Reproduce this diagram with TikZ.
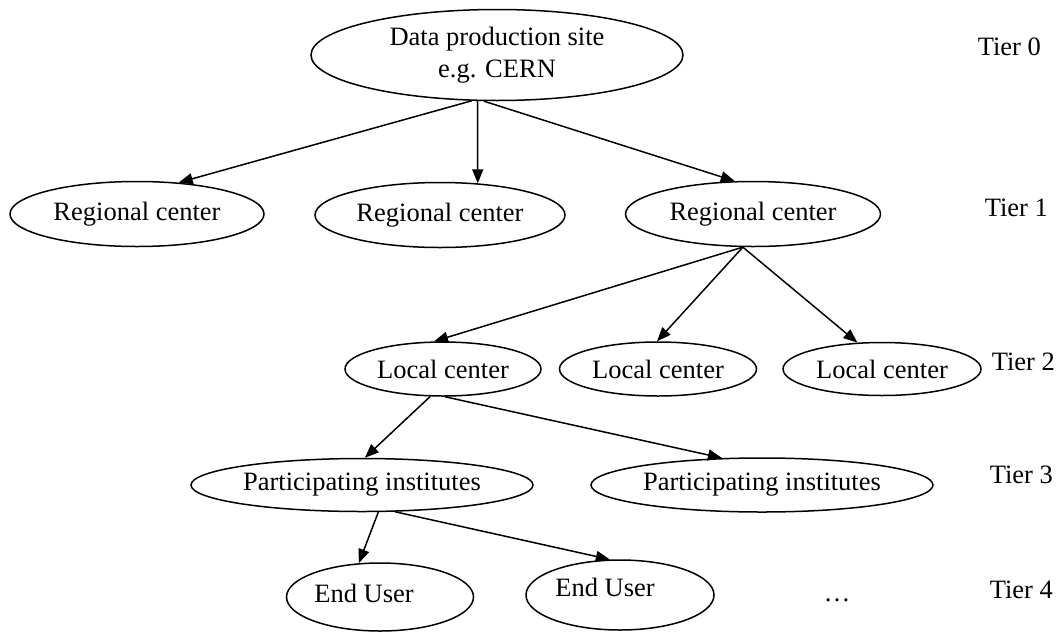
\documentclass[tikz,border=0pt]{standalone}
\usepackage{fontspec}
\setmainfont{Liberation Serif}
\usetikzlibrary{shapes.geometric,arrows.meta}

\begin{document}
\begin{tikzpicture}[x=1pt, y=-1pt, >={Triangle[length=14pt,width=11pt]}, line width=1.5pt, font=\fontsize{26.5}{32}\selectfont]
  \tikzstyle{tiernode}=[ellipse, draw, inner sep=0pt]
  \tikzstyle{tierlabel}=[anchor=west, inner sep=0pt]
  \useasboundingbox (0,0) rectangle (1056,632);

  \node[tiernode, minimum width=372pt, minimum height=91pt, align=center] (D) at (497,55) {Data production site\\e.g. CERN};
  \node[tiernode, minimum width=254pt, minimum height=65pt] (R1) at (137,214) {Regional center};
  \node[tiernode, minimum width=250pt, minimum height=65pt] (R2) at (440,215) {Regional center};
  \node[tiernode, minimum width=255pt, minimum height=65pt] (R3) at (753,214) {Regional center};
  \node[tiernode, minimum width=196pt, minimum height=54pt] (L1) at (443,369) {Local center};
  \node[tiernode, minimum width=197pt, minimum height=54pt] (L2) at (658,369) {Local center};
  \node[tiernode, minimum width=198pt, minimum height=53pt] (L3) at (882,369) {Local center};
  \node[tiernode, minimum width=342pt, minimum height=53pt] (P1) at (362,485) {Participating institutes};
  \node[tiernode, minimum width=342pt, minimum height=54pt] (P2) at (762,485) {Participating institutes};
  \node[tiernode, minimum width=187pt, minimum height=68pt, label={[shift={(-16,-4)}]center:End User}] (U1) at (380,597) {};
  \node[tiernode, minimum width=188pt, minimum height=70pt, label={[shift={(-15,-8)}]center:End User}] (U2) at (620,595) {};
  \node (dots) at (837,600) {…};

  \node[tierlabel] (T0) at (977,47)  {Tier 0};
  \node[tierlabel] (T1) at (984,208) {Tier 1};
  \node[tierlabel] (T2) at (991,362) {Tier 2};
  \node[tierlabel] (T3) at (989,475) {Tier 3};
  \node[tierlabel] (T4) at (989,590) {Tier 4};

  \path[->] (D.-119) edge (R1.37)
            (D.-113) edge (R2.40)
            (D.-106) edge (R3.119)

            (R3.-107) edge (L1.108)
                      edge (L2.92)
                      edge (L3.133)

            (L1.-115) edge (P1.84)
            (L1.-86)  edge (P2.146)

            (P1.-59)  edge (U1.122)
            (P1.-39)  edge (U2.106);
\end{tikzpicture}
\end{document}
